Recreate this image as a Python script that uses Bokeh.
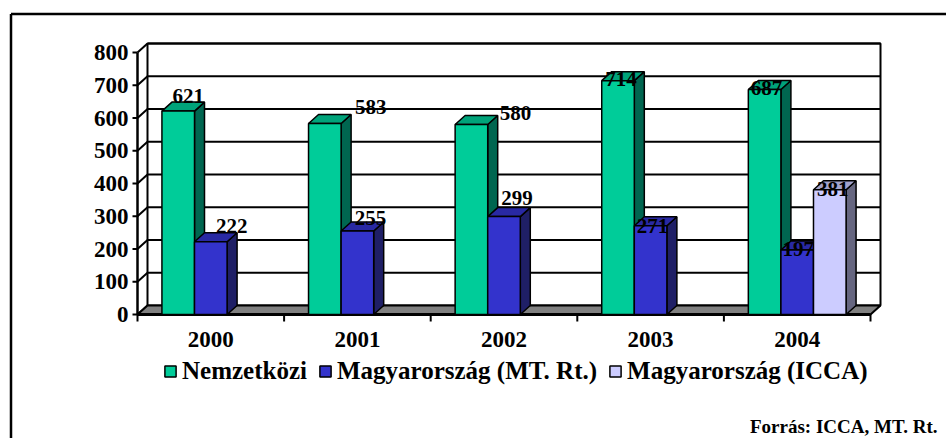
from bokeh.plotting import figure
from bokeh.models import Range1d, ColumnDataSource, Legend, LegendItem
from bokeh.embed import file_html
from bokeh.resources import INLINE
from bokeh.core.properties import value

# ---------------- data ----------------
years = ["2000", "2001", "2002", "2003", "2004"]
series_names = ["Nemzetközi", "Magyarország (MT. Rt.)", "Magyarország (ICCA)"]
nemzetkozi = [621, 583, 580, 714, 687]
magyar_mt = [222, 255, 299, 271, 197]
magyar_icca = [None, None, None, None, 381]
y_ticks = [0, 100, 200, 300, 400, 500, 600, 700, 800]
source_note = "Forrás: ICCA, MT. Rt."

# ---------------- styles ----------------
front_colors = ["#00CC99", "#3333CC", "#CCCCFF"]
top_colors = ["#00A37A", "#2929A3", "#A3A3CC"]
side_colors = ["#006650", "#1F1F66", "#666680"]
FONT_NAME = "Liberation Serif"
FONT = value(FONT_NAME)

# label nudges (pixels: right, up) for each series / category
label_dx = [[10, 46, 44, 3, 2], [21, 13, 13, 2, 1], [0, 0, 0, 0, 3]]
label_up = [[15, 17, 12, 2, 2], [16, 13, 19, 0, 1], [0, 0, 0, 0, 1]]

# ---------------- layout (pixels) ----------------
W, H = 946, 438
AX_X = 137.0        # x of the front value axis
CAT_PX = 146.6      # pixels per category
ZERO_Y = 314.0      # y of value 0 (front)
VPX = 262.0 / 800   # pixels per value unit
DX_PX, DY_PX = 10.0, 9.0
GAP = 1.5           # Excel gap width 150%

n_cat = len(years)
n_ser = len(series_names)
bw = 1.0 / (n_ser + GAP)
off = GAP / 2 * bw
ddx = DX_PX / CAT_PX
ddy = DY_PX / VPX


def px2x(cx):
    return (cx - AX_X) / CAT_PX


def px2y(cy):
    return (ZERO_Y - cy) / VPX


p = figure(width=W, height=H, output_backend="svg", toolbar_location=None,
           x_range=Range1d(px2x(0), px2x(W)), y_range=Range1d(px2y(H), px2y(0)),
           x_axis_type=None, y_axis_type=None, min_border=0,
           background_fill_color="white", border_fill_color="white")
p.outline_line_color = None

top_v = y_ticks[-1]

# back wall
p.quad(left=[ddx], right=[n_cat + ddx], bottom=[ddy], top=[top_v + ddy],
       fill_color="white", line_color="black", line_width=2)
# gridlines on back wall + left wall diagonals
gv = y_ticks[1:]
p.segment(x0=[ddx] * len(gv), y0=[v + ddy for v in gv],
          x1=[n_cat + ddx] * len(gv), y1=[v + ddy for v in gv],
          line_color="black", line_width=2)
p.segment(x0=[0] * len(y_ticks), y0=y_ticks,
          x1=[ddx] * len(y_ticks), y1=[v + ddy for v in y_ticks],
          line_color="black", line_width=2)
# front value axis and ticks
p.segment(x0=[0], y0=[0], x1=[0], y1=[top_v], line_color="black", line_width=2.5)
p.segment(x0=[-5 / CAT_PX] * len(y_ticks), y0=y_ticks, x1=[0] * len(y_ticks), y1=y_ticks,
          line_color="black", line_width=2)
# floor
p.patch(x=[0, n_cat, n_cat + ddx, ddx], y=[0, 0, ddy, ddy],
        fill_color="#808080", line_color="black", line_width=2)
p.segment(x0=[0], y0=[0], x1=[n_cat], y1=[0], line_color="black", line_width=3)
# category ticks
p.segment(x0=list(range(n_cat + 1)), y0=[0] * (n_cat + 1),
          x1=list(range(n_cat + 1)), y1=[-7 / VPX] * (n_cat + 1),
          line_color="black", line_width=2)

# bars
all_series = [nemzetkozi, magyar_mt, magyar_icca]
legend_items = []
lab_x, lab_y, lab_t, lab_xo, lab_yo = [], [], [], [], []
for s, vals in enumerate(all_series):
    L, R, T, sx, sy, tx, ty = [], [], [], [], [], [], []
    for c, v in enumerate(vals):
        if v is None:
            continue
        left = c + off + s * bw
        right = left + bw
        L.append(left); R.append(right); T.append(v)
        sx.append([right, right + ddx, right + ddx, right])
        sy.append([0, ddy, v + ddy, v])
        tx.append([left, right, right + ddx, left + ddx])
        ty.append([v, v, v + ddy, v + ddy])
        lab_x.append((left + right) / 2); lab_y.append(v); lab_t.append(str(v))
        lab_xo.append(label_dx[s][c]); lab_yo.append(-label_up[s][c])
    p.patches(xs=sx, ys=sy, fill_color=side_colors[s], line_color="black", line_width=1.5)
    p.patches(xs=tx, ys=ty, fill_color=top_colors[s], line_color="black", line_width=1.5)
    r = p.quad(left=L, right=R, bottom=[0] * len(T), top=T,
               fill_color=front_colors[s], line_color="black", line_width=1.5)
    legend_items.append(LegendItem(label=series_names[s], renderers=[r]))

# data labels
lsrc = ColumnDataSource(dict(x=lab_x, y=lab_y, t=lab_t, xo=lab_xo, yo=lab_yo))
p.text(x="x", y="y", text="t", x_offset="xo", y_offset="yo", source=lsrc,
       text_align="center", text_baseline="alphabetic", text_font=FONT,
       text_font_style="bold", text_font_size="21px", text_color="black")

# value tick labels
p.text(x=[0] * len(y_ticks), y=y_ticks, text=[str(v) for v in y_ticks], x_offset=-9,
       text_align="right", text_baseline="middle", text_font=FONT,
       text_font_style="bold", text_font_size="23px", text_color="black")

# category labels
p.text(x=[c + 0.5 for c in range(n_cat)], y=[0] * n_cat, text=years, y_offset=25,
       text_align="center", text_baseline="middle", text_font=FONT,
       text_font_style="bold", text_font_size="23px", text_color="black")

# source note
p.text(x=[px2x(937)], y=[px2y(426)], text=[source_note],
       text_align="right", text_baseline="alphabetic", text_font=FONT,
       text_font_style="bold", text_font_size="19px", text_color="black")

# chart border (top and left edges visible)
p.segment(x0=[px2x(10.5), px2x(10.5)], y0=[px2y(13.5), px2y(13.5)],
          x1=[px2x(W + 20), px2x(10.5)], y1=[px2y(13.5), px2y(H + 20)],
          line_color="black", line_width=2.5)

legend = Legend(items=legend_items, orientation="horizontal", location=(163, 53),
                glyph_width=14, glyph_height=14, label_standoff=5, spacing=11,
                padding=0, margin=0, border_line_alpha=0, background_fill_alpha=0,
                label_text_font=FONT_NAME, label_text_font_style="bold",
                label_text_font_size="25px", label_text_color="black")
p.add_layout(legend)

open("out.html", "w").write(file_html(p, INLINE))
